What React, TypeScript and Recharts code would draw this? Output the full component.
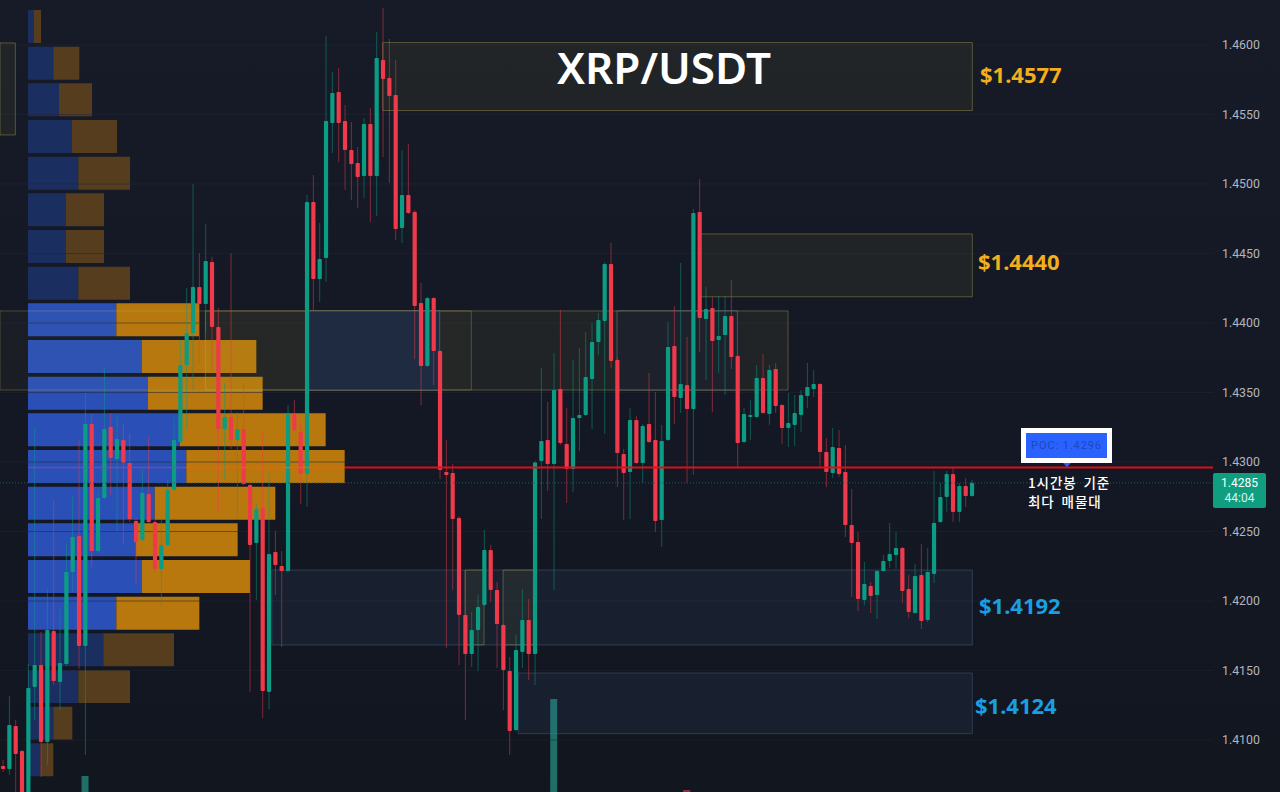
import React from "react";
import { BarChart, Bar, Cell, ComposedChart, XAxis, YAxis, CartesianGrid, ReferenceArea, ReferenceLine } from "recharts";

const W = 1280;
const H = 792;
const UP = "#0c9c84";
const DOWN = "#ee3a4b";
const FONT = "Roboto, 'Noto Sans', sans-serif";

const opens = [1.40813,1.40792,1.41101,1.40921,1.40569,1.41382,1.41540,1.40986,1.41784,1.41418,1.41547,1.42209,1.42468,1.41677,1.43274,1.42360,1.42741,1.43252,1.43022,1.43159,1.42993,1.42576,1.42439,1.42770,1.42569,1.42231,1.42403,1.42799,1.43144,1.43698,1.43928,1.44259,1.44137,1.44439,1.43972,1.43238,1.43324,1.43159,1.43238,1.42835,1.42418,1.42669,1.41346,1.42353,1.42252,1.42216,1.43346,1.43216,1.42914,1.44871,1.44317,1.44468,1.45439,1.45662,1.45454,1.45245,1.45151,1.45058,1.45432,1.45058,1.45892,1.45763,1.45641,1.44684,1.44921,1.44799,1.44144,1.43691,1.44180,1.43799,1.42928,1.42921,1.42597,1.41900,1.41619,1.41792,1.41972,1.42367,1.42080,1.41828,1.41497,1.41072,1.41634,1.41864,1.41619,1.43008,1.43159,1.42986,1.43525,1.43130,1.42950,1.43317,1.43339,1.43597,1.43864,1.44015,1.44425,1.43734,1.43058,1.42928,1.43303,1.42993,1.43274,1.43159,1.42583,1.43159,1.43835,1.43461,1.43554,1.43382,1.44799,1.44029,1.44108,1.43878,1.43914,1.44051,1.43763,1.43144,1.43324,1.43324,1.43605,1.43346,1.43669,1.43410,1.43245,1.43267,1.43339,1.43475,1.43525,1.43561,1.43072,1.42921,1.43101,1.42928,1.42547,1.42425,1.42008,1.42108,1.42043,1.42216,1.42288,1.42331,1.42382,1.42087,1.41914,1.42187,1.41864,1.42195,1.42569,1.42749,1.42914,1.42641,1.42828,1.42756];
const closes = [1.40792,1.41108,1.40900,1.40583,1.41375,1.41540,1.40986,1.41792,1.41425,1.41554,1.42209,1.42461,1.41677,1.43274,1.42360,1.42741,1.43238,1.43029,1.43166,1.42996,1.42590,1.42425,1.42777,1.42569,1.42231,1.42403,1.42799,1.43159,1.43698,1.43928,1.44259,1.44137,1.44446,1.43972,1.43238,1.43324,1.43159,1.43238,1.42842,1.42403,1.42662,1.41353,1.42339,1.42259,1.42216,1.43346,1.43231,1.42914,1.44871,1.44317,1.44461,1.45454,1.45655,1.45439,1.45245,1.45144,1.45051,1.45432,1.45058,1.45907,1.45756,1.45633,1.44677,1.44921,1.44792,1.44123,1.43691,1.44180,1.43799,1.42943,1.42907,1.42590,1.41900,1.41619,1.41792,1.41957,1.42367,1.42080,1.41835,1.41504,1.41065,1.41648,1.41864,1.41619,1.42996,1.43151,1.42986,1.43518,1.43137,1.42950,1.43317,1.43339,1.43612,1.43864,1.44022,1.44425,1.43727,1.43065,1.42921,1.43303,1.42993,1.43259,1.43144,1.42576,1.43151,1.43828,1.43468,1.43561,1.43382,1.44792,1.44036,1.44101,1.43871,1.43907,1.44051,1.43756,1.43137,1.43346,1.43339,1.43605,1.43353,1.43662,1.43403,1.43245,1.43281,1.43353,1.43482,1.43540,1.43561,1.43072,1.42928,1.43108,1.42914,1.42547,1.42418,1.42015,1.42123,1.42036,1.42216,1.42288,1.42339,1.42382,1.42072,1.41921,1.42180,1.41856,1.42209,1.42561,1.42749,1.42914,1.42641,1.42828,1.42756,1.42850];
const highs = [1.40857,1.41317,1.41144,1.40929,1.41547,1.43252,1.41777,1.42087,1.42727,1.41943,1.42410,1.42749,1.43159,1.43497,1.43346,1.42799,1.43677,1.43353,1.43339,1.43274,1.43202,1.42597,1.42950,1.43180,1.42583,1.42583,1.42871,1.43324,1.43878,1.44252,1.45000,1.44504,1.44713,1.44475,1.44108,1.43569,1.44504,1.43360,1.43569,1.42842,1.42698,1.43216,1.42914,1.42504,1.42360,1.43410,1.43446,1.43288,1.44921,1.45065,1.44720,1.46065,1.45806,1.45835,1.45569,1.45446,1.45266,1.45475,1.45547,1.46094,1.46266,1.46043,1.45892,1.45245,1.45288,1.44813,1.44288,1.44187,1.44187,1.43806,1.43159,1.42986,1.42612,1.42223,1.41921,1.42043,1.42511,1.42403,1.42137,1.41835,1.41598,1.41756,1.42087,1.42015,1.43008,1.43677,1.43432,1.43784,1.44094,1.43389,1.43734,1.43821,1.43936,1.44000,1.44072,1.44439,1.44576,1.43749,1.43094,1.43389,1.43331,1.43274,1.43641,1.43504,1.43267,1.44008,1.44123,1.44432,1.43900,1.44820,1.45036,1.44259,1.44187,1.44195,1.44195,1.44310,1.43770,1.43389,1.43446,1.43698,1.43777,1.43698,1.43713,1.43418,1.43497,1.43482,1.43518,1.43713,1.43662,1.43569,1.43173,1.43245,1.43231,1.43123,1.42806,1.42497,1.42281,1.42137,1.42223,1.42331,1.42561,1.42497,1.42389,1.42187,1.42267,1.42410,1.42382,1.42936,1.42849,1.42936,1.42957,1.42849,1.42885,1.42871];
const lows = [1.40770,1.40749,1.40626,1.40569,1.40497,1.41144,1.40734,1.40821,1.41396,1.41216,1.41533,1.42065,1.41511,1.40892,1.42245,1.42346,1.42734,1.42763,1.42497,1.42410,1.42569,1.42123,1.42425,1.42554,1.42223,1.41957,1.42389,1.42792,1.43137,1.43231,1.43518,1.43713,1.43928,1.43662,1.42641,1.42871,1.43094,1.42583,1.42835,1.41346,1.42008,1.41158,1.41223,1.42043,1.41669,1.42209,1.43216,1.42698,1.42677,1.44087,1.44151,1.44295,1.45223,1.45159,1.44957,1.44885,1.44828,1.44900,1.44727,1.44770,1.45195,1.45007,1.44597,1.44576,1.44784,1.43741,1.43410,1.43684,1.43554,1.42878,1.41662,1.42080,1.41540,1.41144,1.41526,1.41497,1.41964,1.41993,1.41518,1.41216,1.40892,1.41065,1.41518,1.41432,1.41396,1.42590,1.42792,1.42080,1.43123,1.42705,1.42785,1.43080,1.43331,1.43238,1.43770,1.43202,1.43677,1.42820,1.42583,1.42590,1.42986,1.42849,1.43137,1.42497,1.42389,1.43151,1.43274,1.43353,1.42849,1.42907,1.43792,1.43590,1.43360,1.43641,1.43482,1.43669,1.42964,1.43137,1.43159,1.43317,1.43346,1.43267,1.43353,1.43130,1.43108,1.43115,1.43216,1.43389,1.43468,1.42957,1.42820,1.42885,1.42892,1.42461,1.42029,1.41928,1.41972,1.41914,1.41871,1.42209,1.42238,1.42231,1.41986,1.41878,1.41907,1.41799,1.41849,1.42130,1.42561,1.42641,1.42569,1.42569,1.42677,1.42749];

const yTicks = [1.41, 1.415, 1.42, 1.425, 1.43, 1.435, 1.44, 1.445, 1.45, 1.455, 1.46];
const xTicks = [1, 13, 25, 37, 49, 61, 73, 85, 97, 109, 121, 133, 145, 157, 169, 181];
const PRICE_TOP = 1.46324;
const PRICE_BOTTOM = 1.40626;
const IDX_LEFT = -0.426;
const IDX_RIGHT = 191.1;

const profileBuy = [18,76,93,132,151,113,113,151,265,342,360,456,475,380,323,342,265,226,151,76,38];
const profileSell = [21,78,99,135,155,115,115,155,248,343,344,437,475,362,306,324,249,212,155,57,38];
const profileActive = [false,false,false,false,false,false,false,false,true,true,true,true,true,true,true,true,true,false,false,false,false];

const volumeIdx = [13, 87, 108];
const volumeVal = [16, 93, 2];
const volumeUp = [true, true, false];

const candles = opens.map((o, i) => ({ i, o, c: closes[i], h: highs[i], l: lows[i], range: [lows[i], highs[i]] }));
const profile = profileBuy.map((b, k) => ({ row: k, buy: b, sell: profileSell[k], on: profileActive[k] }));
const volumes = volumeIdx.map((i, k) => ({ i, v: volumeVal[k], up: volumeUp[k] }));

const Y = { fill: "rgba(165,160,45,0.08)", stroke: "rgba(185,175,85,0.38)" };
const Y2 = { fill: "rgba(165,160,45,0.045)", stroke: "rgba(185,175,85,0.32)" };
const B = { fill: "rgba(70,105,160,0.11)", stroke: "rgba(105,135,170,0.30)" };
const C = { fill: "rgba(31,43,66,0.92)", stroke: "rgba(170,190,220,0.30)" };
const D = { fill: "rgba(25,32,50,0.55)", stroke: "rgba(190,200,220,0.30)" };

const zoneFrom = [-0.426, 60, 110.1, -0.426, 32, 48, 97, 42.5, 73, 79, 81.4];
const zoneTo = [2, 153.1, 153.1, 74, 124, 69, 116, 153.1, 76, 84, 153.1];
const zoneTop = [1.46015, 1.46018, 1.44641, 1.44087, 1.44087, 1.44087, 1.44087, 1.42223, 1.42223, 1.42223, 1.41482];
const zoneBottom = [1.45353, 1.45529, 1.44189, 1.43518, 1.43518, 1.43518, 1.43518, 1.41684, 1.41684, 1.41684, 1.41046];
const zoneStyle = [Y, Y, Y, Y2, Y, C, D, B, Y, Y, B];

function Candle(props: any) {
  const { x, y, width, height, payload } = props;
  const h = Math.abs(height);
  const span = payload.h - payload.l;
  const k = span > 0 ? h / span : 0;
  const up = payload.c >= payload.o;
  const color = up ? UP : DOWN;
  const top = y + (payload.h - Math.max(payload.o, payload.c)) * k;
  const bh = Math.max(Math.abs(payload.o - payload.c) * k, 1.5);
  const cx = x + width / 2;
  return (
    <g>
      <line x1={cx} x2={cx} y1={y} y2={y + h} stroke={color} strokeWidth={1} strokeOpacity={0.5} />
      <rect x={cx - 2.1} y={top} width={4.2} height={bh} rx={0.8} fill={color} />
    </g>
  );
}

const label = (text: string, left: number, top: number, size: number, color: string, extra: any = {}) => (
  <div style={{ position: "absolute", left, top, fontSize: size, color, lineHeight: 1, whiteSpace: "pre", fontFamily: "'Noto Sans', sans-serif", ...extra }}>{text}</div>
);

const KR = { fontFamily: "'Noto Sans CJK KR', sans-serif", wordSpacing: 3, letterSpacing: 0.9, fontWeight: 500 };

export default function App() {
  const layer: any = { position: "absolute", left: 0, top: 0 };
  return (
    <div style={{ position: "absolute", left: 0, top: 0, width: W, height: H, overflow: "hidden", background: "linear-gradient(180deg,#171b28 0%,#141824 55%,#12161f 100%)" }}>
      <div style={layer}>
        <BarChart width={W} height={H} layout="vertical" data={profile} margin={{ top: 8, right: 0, bottom: 14, left: 28 }} barCategoryGap={0}>
          <XAxis type="number" domain={[0, 3756]} hide />
          <YAxis type="category" dataKey="row" hide />
          <Bar dataKey="buy" stackId="p" barSize={33} isAnimationActive={false}>
            {profile.map((r) => <Cell key={r.row} fill={r.on ? "#2a50b8" : "#1b2e60"} />)}
          </Bar>
          <Bar dataKey="sell" stackId="p" barSize={33} isAnimationActive={false}>
            {profile.map((r) => <Cell key={r.row} fill={r.on ? "#b8780e" : "#553d1e"} />)}
          </Bar>
        </BarChart>
      </div>
      <div style={layer}>
        <BarChart width={W} height={H} data={volumes} margin={{ top: 0, right: 67, bottom: 0, left: 0 }}>
          <XAxis type="number" dataKey="i" domain={[IDX_LEFT, IDX_RIGHT]} hide />
          <YAxis type="number" domain={[0, 792]} hide />
          <Bar dataKey="v" barSize={7} isAnimationActive={false}>
            {volumes.map((r) => <Cell key={r.i} fill={r.up ? "#1f6f68" : "#8a3040"} />)}
          </Bar>
        </BarChart>
      </div>
      <div style={layer}>
        <ComposedChart width={W} height={H} data={candles} margin={{ top: 0, right: 0, bottom: 0, left: 0 }}>
          <CartesianGrid stroke="#222735" strokeOpacity={0.55} syncWithTicks />
          <XAxis type="number" dataKey="i" domain={[IDX_LEFT, IDX_RIGHT]} ticks={xTicks} allowDataOverflow height={0} tick={false} axisLine={false} tickLine={false} />
          <YAxis type="number" orientation="right" width={67} domain={[PRICE_BOTTOM, PRICE_TOP]} allowDataOverflow ticks={yTicks} interval={0}
            tickFormatter={(v: number) => v.toFixed(4)} axisLine={false} tickLine={false} tickSize={0} tickMargin={9}
            tick={{ fill: "#b2b5be", fontSize: 12.3, fontFamily: FONT }} />
          {zoneFrom.map((f, k) => (
            <ReferenceArea key={k} x1={f} x2={zoneTo[k]} y1={zoneBottom[k]} y2={zoneTop[k]} fill={zoneStyle[k].fill} fillOpacity={1} stroke={zoneStyle[k].stroke} strokeWidth={1} />
          ))}
          <ReferenceLine segment={[{ x: IDX_LEFT, y: 1.4285 }, { x: 191.1, y: 1.4285 }]} stroke="#1f5a58" strokeDasharray="1 2" />
          <Bar dataKey="range" barSize={5} shape={<Candle />} isAnimationActive={false} />
          <ReferenceLine segment={[{ x: 4, y: 1.4296 }, { x: 29, y: 1.4296 }]} stroke="#8d4d9c" strokeOpacity={0.7} strokeWidth={1.5} />
          <ReferenceLine segment={[{ x: 29, y: 1.4296 }, { x: 54, y: 1.4296 }]} stroke="#e8660a" strokeWidth={1.5} />
          <ReferenceLine segment={[{ x: 54, y: 1.4296 }, { x: 191.1, y: 1.4296 }]} stroke="#dd0f18" strokeWidth={2} />
        </ComposedChart>
      </div>

      {label("XRP/USDT", 557, 45, 44, "#ffffff", { fontWeight: 600 })}
      {label("$1.4577", 980, 63, 22, "#f2ae1c", { fontWeight: 700 })}
      {label("$1.4440", 978, 250, 22, "#f2ae1c", { fontWeight: 700 })}
      {label("$1.4192", 979, 594, 22, "#1a9fe0", { fontWeight: 700 })}
      {label("$1.4124", 975, 694, 22, "#1a9fe0", { fontWeight: 700 })}

      <div style={{ position: "absolute", left: 1021, top: 428, width: 81, height: 25, border: "5px solid #ffffff", background: "#2962ff", color: "#1f48b4", fontSize: 11, fontFamily: FONT, lineHeight: "25px", textAlign: "center", letterSpacing: 0.9 }}>POC: 1.4296</div>
      <div style={{ position: "absolute", left: 1063, top: 463, width: 0, height: 0, borderLeft: "4px solid transparent", borderRight: "4px solid transparent", borderTop: "4px solid #2962ff" }} />
      {label("1시간봉 기준", 1028, 476, 13.5, "#ffffff", KR)}
      {label("최다 매물대", 1028, 495, 13.5, "#ffffff", KR)}

      <div style={{ position: "absolute", left: 1213, top: 473, width: 53, height: 35, background: "#0f9f80", borderRadius: 2, color: "#ffffff", fontSize: 12, fontFamily: FONT, textAlign: "center", lineHeight: "15px", paddingTop: 3, boxSizing: "border-box" }}>
        <div>1.4285</div>
        <div style={{ color: "#d8f3ec" }}>44:04</div>
      </div>
    </div>
  );
}
